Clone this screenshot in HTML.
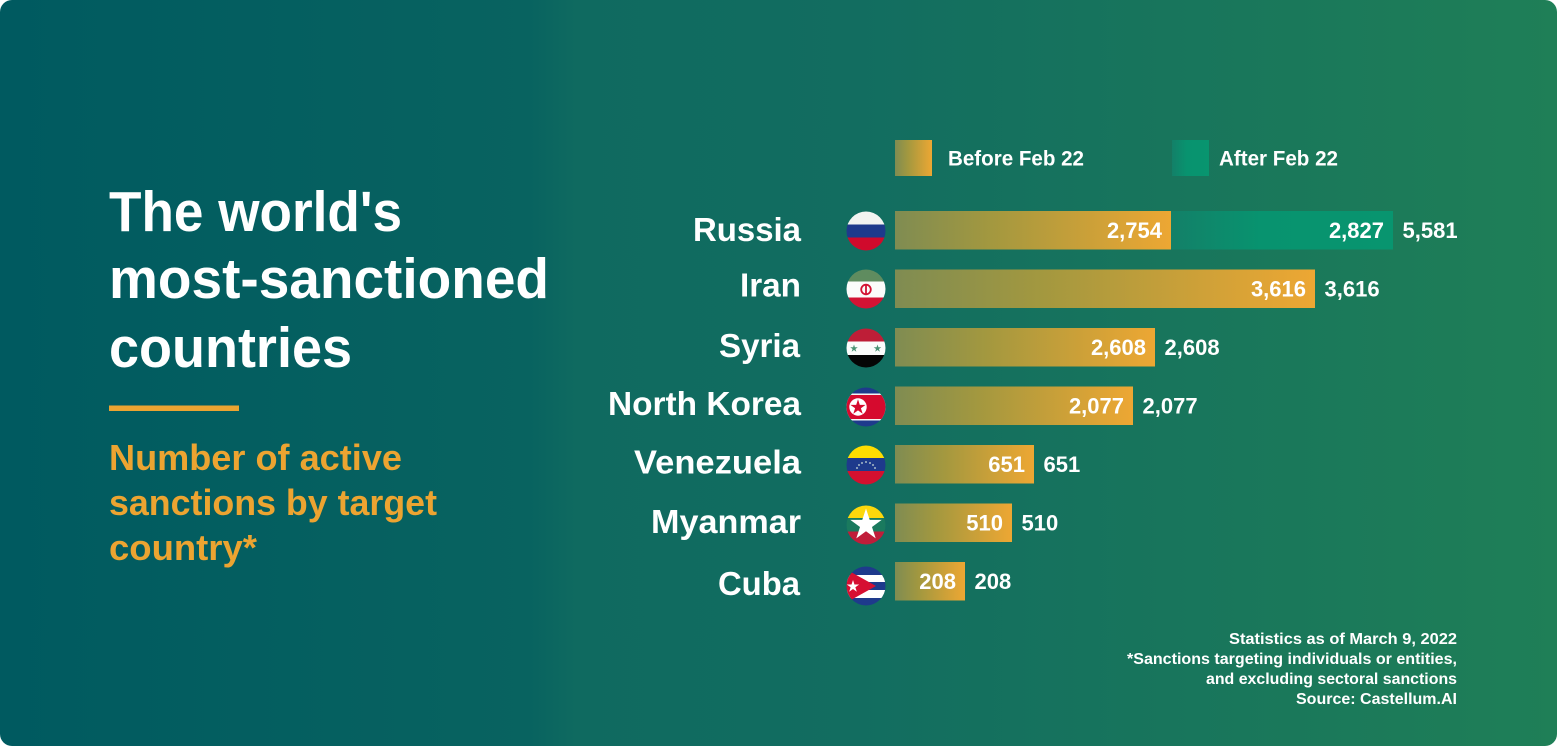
<!DOCTYPE html>
<html lang="en">
<head>
<meta charset="utf-8">
<title>The world's most-sanctioned countries</title>
<style>
html,body{margin:0;padding:0;background:#fff;width:1557px;height:746px;overflow:hidden}
svg{display:block}
text{font-family:"Liberation Sans",Arial,sans-serif;font-weight:700}
</style>
</head>
<body>
<svg id="chart" xmlns="http://www.w3.org/2000/svg" width="1557" height="746" viewBox="0 0 1557 746">
<defs>
<linearGradient id="bg" x1="0" y1="0" x2="1" y2="0">
<stop offset="0" stop-color="#005a60"/>
<stop offset="0.34" stop-color="#086360"/>
<stop offset="0.37" stop-color="#0f6a60"/>
<stop offset="0.55" stop-color="#126d60"/>
<stop offset="1" stop-color="#1f7f57"/>
</linearGradient>
<linearGradient id="gradBefore" x1="0" y1="0" x2="1" y2="0">
<stop offset="0" stop-color="#7f8c52"/>
<stop offset="0.35" stop-color="#a3983f"/>
<stop offset="1" stop-color="#eda733"/>
</linearGradient>
<linearGradient id="gradAfter" x1="0" y1="0" x2="1" y2="0">
<stop offset="0" stop-color="#138068"/>
<stop offset="0.4" stop-color="#08936f"/>
<stop offset="1" stop-color="#08956f"/>
</linearGradient>
<polygon id="star" points="0,-1 .225,-.309 .951,-.309 .363,.118 .588,.809 0,.382 -.588,.809 -.363,.118 -.951,-.309 -.225,-.309"/>
<clipPath id="flagClip"><circle cx="0" cy="0" r="19.5"/></clipPath>
</defs>

<rect x="0" y="0" width="1557" height="746" rx="12" ry="12" fill="url(#bg)"/>

<g fill="#fff" font-size="57">
<text x="109" y="231" textLength="293" lengthAdjust="spacingAndGlyphs">The world's</text>
<text x="109" y="298" textLength="440" lengthAdjust="spacingAndGlyphs">most-sanctioned</text>
<text x="109" y="367" textLength="243" lengthAdjust="spacingAndGlyphs">countries</text>
</g>
<rect x="109" y="405.5" width="130" height="5.5" fill="#eca431"/>
<g fill="#eca431" font-size="36">
<text x="109" y="470" textLength="293" lengthAdjust="spacingAndGlyphs">Number of active</text>
<text x="109" y="515" textLength="328" lengthAdjust="spacingAndGlyphs">sanctions by target</text>
<text x="109" y="560" textLength="148" lengthAdjust="spacingAndGlyphs">country*</text>
</g>

<g>
<rect x="895" y="140" width="37" height="36" fill="url(#gradBefore)"/>
<text x="948" y="165.5" fill="#fff" font-size="21" textLength="136" lengthAdjust="spacingAndGlyphs">Before Feb 22</text>
<rect x="1172" y="140" width="37" height="36" fill="url(#gradAfter)"/>
<text x="1219" y="165.5" fill="#fff" font-size="21" textLength="119" lengthAdjust="spacingAndGlyphs">After Feb 22</text>
</g>

<g fill="#fff" font-size="33">
<text x="693" y="241" textLength="108" lengthAdjust="spacingAndGlyphs">Russia</text>
<text x="740" y="296.5" textLength="61" lengthAdjust="spacingAndGlyphs">Iran</text>
<text x="719" y="357" textLength="81" lengthAdjust="spacingAndGlyphs">Syria</text>
<text x="608" y="415" textLength="193" lengthAdjust="spacingAndGlyphs">North Korea</text>
<text x="634" y="473.5" textLength="167" lengthAdjust="spacingAndGlyphs">Venezuela</text>
<text x="651" y="533" textLength="150" lengthAdjust="spacingAndGlyphs">Myanmar</text>
<text x="718" y="595" textLength="82" lengthAdjust="spacingAndGlyphs">Cuba</text>
</g>

<g>
<g transform="translate(866,231)"><g clip-path="url(#flagClip)">
<rect x="-20" y="-20" width="40" height="13.5" fill="#f2f4f1"/>
<rect x="-20" y="-6.5" width="40" height="13" fill="#1e3a8c"/>
<rect x="-20" y="6.5" width="40" height="14" fill="#d00a2c"/>
</g></g>
<g transform="translate(866,289)"><g clip-path="url(#flagClip)">
<rect x="-20" y="-20" width="40" height="12.5" fill="#5f8c5f"/>
<rect x="-20" y="-7.5" width="40" height="16" fill="#fbfcfb"/>
<rect x="-20" y="8.5" width="40" height="12" fill="#d31334"/>
<circle cx="0" cy="0.5" r="4.8" fill="none" stroke="#d31334" stroke-width="1.8"/>
<rect x="-0.9" y="-5" width="1.8" height="11" fill="#d31334"/>
</g></g>
<g transform="translate(866,348)"><g clip-path="url(#flagClip)">
<rect x="-20" y="-20" width="40" height="13.5" fill="#be1e37"/>
<rect x="-20" y="-6.5" width="40" height="13.5" fill="#fbfcfb"/>
<rect x="-20" y="7" width="40" height="13.5" fill="#050505"/>
<use href="#star" transform="translate(-12,0.5) scale(4)" fill="#4a9273"/>
<use href="#star" transform="translate(11.5,0.5) scale(4)" fill="#4a9273"/>
</g></g>
<g transform="translate(866,407)"><g clip-path="url(#flagClip)">
<rect x="-20" y="-20" width="40" height="40.5" fill="#1e3a8c"/>
<rect x="-20" y="-13.5" width="40" height="27" fill="#f4f6f4"/>
<rect x="-20" y="-12" width="40" height="24" fill="#d60a2e"/>
<circle cx="-8" cy="0" r="8.7" fill="#fff"/>
<use href="#star" transform="translate(-8,0.3) scale(8)" fill="#d60a2e"/>
</g></g>
<g transform="translate(866,465)"><g clip-path="url(#flagClip)">
<rect x="-20" y="-20" width="40" height="13" fill="#ffdd00"/>
<rect x="-20" y="-7" width="40" height="13" fill="#1e3a8c"/>
<rect x="-20" y="6" width="40" height="14.5" fill="#d4102f"/>
<g fill="#cfe0d8">
<circle cx="-9" cy="3" r=".9"/><circle cx="-7" cy="0" r=".9"/><circle cx="-4" cy="-2" r=".9"/><circle cx="0" cy="-3" r=".9"/><circle cx="4" cy="-2" r=".9"/><circle cx="7" cy="0" r=".9"/><circle cx="9" cy="3" r=".9"/>
</g>
</g></g>
<g transform="translate(866,525)"><g clip-path="url(#flagClip)">
<rect x="-20" y="-20" width="40" height="13" fill="#fcd80c"/>
<rect x="-20" y="-7" width="40" height="13.5" fill="#1a7a5e"/>
<rect x="-20" y="6.5" width="40" height="14" fill="#c01d3a"/>
<use href="#star" transform="translate(0,0) scale(16.5)" fill="#fff"/>
</g></g>
<g transform="translate(866,586)"><g clip-path="url(#flagClip)">
<rect x="-20" y="-20" width="40" height="40.5" fill="#1e3a8c"/>
<rect x="-20" y="-11" width="40" height="7" fill="#fff"/>
<rect x="-20" y="4" width="40" height="8" fill="#fff"/>
<polygon points="-20,-15 -16,-14.5 10,0 -16,14.5 -20,15" fill="#d60f32"/>
<use href="#star" transform="translate(-13,0.5) scale(6.5)" fill="#fff"/>
</g></g>
</g>

<g id="bars"></g>
<g id="values" fill="#fff" font-size="22"></g>

<g fill="#fff" font-size="16">
<text x="1229" y="644" textLength="228" lengthAdjust="spacingAndGlyphs">Statistics as of March 9, 2022</text>
<text x="1127" y="664" textLength="330" lengthAdjust="spacingAndGlyphs">*Sanctions targeting individuals or entities,</text>
<text x="1206" y="684" textLength="251" lengthAdjust="spacingAndGlyphs">and excluding sectoral sanctions</text>
<text x="1296" y="704" textLength="161" lengthAdjust="spacingAndGlyphs">Source: Castellum.AI</text>
</g>
</svg>

<script>
const categories = ["Russia", "Iran", "Syria", "North Korea", "Venezuela", "Myanmar", "Cuba"];
const beforeFeb22 = [2754, 3616, 2608, 2077, 651, 510, 208];
const afterFeb22 = [2827, 0, 0, 0, 0, 0, 0];

// The source graphic is not drawn to a linear scale: this is its value axis.
const axisValues = [0, 208, 510, 651, 2077, 2608, 2754, 3616, 5581];
const axisLengths = [0, 70, 117, 139, 238, 260, 276, 420, 498];
const AXIS_X0 = 895, ROW_Y0 = 211, ROW_STEP = 58.5, BAR_H = 38.5;

function xScale(v) {
  const n = axisValues.length;
  let i = 1;
  while (i < n - 1 && v > axisValues[i]) i++;
  const t = (v - axisValues[i - 1]) / (axisValues[i] - axisValues[i - 1]);
  return AXIS_X0 + axisLengths[i - 1] + t * (axisLengths[i] - axisLengths[i - 1]);
}
function yScale(i) { return ROW_Y0 + ROW_STEP * i; }
function fmt(v) { return v.toLocaleString("en-US"); }
function slug(s) { return s.toLowerCase().replace(/\s+/g, "-"); }

const NS = "http://www.w3.org/2000/svg";
const barsG = document.getElementById("bars");
const valuesG = document.getElementById("values");

function makeBar(x0, x1, y, fill, name) {
  const r = document.createElementNS(NS, "rect");
  r.setAttribute("x", x0);
  r.setAttribute("y", y);
  r.setAttribute("width", Math.max(0, x1 - x0));
  r.setAttribute("height", BAR_H);
  r.setAttribute("fill", fill);
  
  
  barsG.appendChild(r);
}
function makeValue(x, y, anchor, v, name) {
  const t = document.createElementNS(NS, "text");
  t.setAttribute("x", x);
  t.setAttribute("y", y);
  t.setAttribute("text-anchor", anchor);
  t.textContent = fmt(v);
  
  
  valuesG.appendChild(t);
}

categories.forEach(function (c, i) {
  const y = yScale(i);
  const base = slug(c);
  const textY = y + 27;
  const xBefore = xScale(beforeFeb22[i]);
  makeBar(AXIS_X0, xBefore, y, "url(#gradBefore)", "bar-before-" + base);
  makeValue(xBefore - 9, textY, "end", beforeFeb22[i], "value-before-" + base);
  let xEnd = xBefore;
  if (afterFeb22[i] > 0) {
    xEnd = xScale(beforeFeb22[i] + afterFeb22[i]);
    makeBar(xBefore, xEnd, y, "url(#gradAfter)", "bar-after-" + base);
    makeValue(xEnd - 9, textY, "end", afterFeb22[i], "value-after-" + base);
  }
  makeValue(xEnd + 9.5, textY, "start", beforeFeb22[i] + afterFeb22[i], "value-total-" + base);
});
</script>
</body>
</html>
